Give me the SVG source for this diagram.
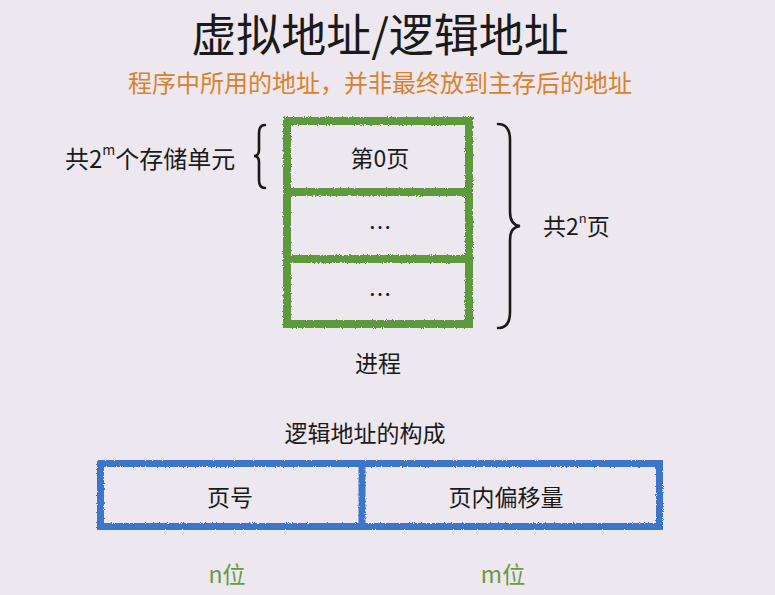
<svg xmlns="http://www.w3.org/2000/svg" width="775" height="595" viewBox="0 0 775 595">
<defs>
<filter id="rough" x="-5%" y="-5%" width="110%" height="110%">
<feTurbulence type="fractalNoise" baseFrequency="0.9" numOctaves="2" seed="3" result="n"/>
<feDisplacementMap in="SourceGraphic" in2="n" scale="3" xChannelSelector="R" yChannelSelector="G"/>
</filter>
</defs>
<style>
text{font-family:"Noto Sans CJK SC","Noto Sans",sans-serif;fill:#1a1a1a;}
.t{font-size:23px;text-anchor:middle;dominant-baseline:central;}
.g{fill:none;stroke:#5b9a3c;stroke-width:8;}
.b{fill:none;stroke:#3d74c8;stroke-width:7;}
.br{fill:none;stroke:#1a1a1a;stroke-width:2.6;stroke-linecap:round;}
.gl{fill:#6b9a3e;}
</style>
<rect width="775" height="595" fill="#ede7ef"/>
<g id="title">
<text x="380" y="32" class="t" style="font-size:45px">虚拟地址/逻辑地址</text>
<text x="380" y="81" class="t" style="font-size:24px;fill:#d9822e">程序中所用的地址，并非最终放到主存后的地址</text>
</g>
<g id="process" filter="url(#rough)">
<rect x="287" y="121" width="182" height="203" class="g"/>
<line x1="287" y1="192" x2="469" y2="192" class="g"/>
<line x1="287" y1="259" x2="469" y2="259" class="g"/>
</g>
<g id="page0"><text x="380" y="157" class="t">第0页</text></g>
<g id="page1"><text x="380" y="226" class="t">…</text></g>
<g id="page2"><text x="380" y="293" class="t">…</text></g>
<g id="process-label"><text x="378" y="362" class="t">进程</text></g>
<g id="connectors">
<path class="br" d="M265,125 Q259,125 259,133 L259,150 Q259,156 254,156 Q259,156 259,162 L259,180 Q259,188 265,188"/>
<path class="br" d="M498,124 Q510,124 510,140 L510,212 Q510,225 520,226 Q510,227 510,240 L510,312 Q510,328 498,328"/>
</g>
<g id="units-label"><text x="65" y="157" style="font-size:24px;dominant-baseline:central">共2<tspan dy="-8" style="font-size:14px">m</tspan><tspan dy="8">个存储单元</tspan></text></g>
<g id="pages-label"><text x="543" y="225" style="font-size:23px;dominant-baseline:central">共2<tspan dy="-8" style="font-size:13px">n</tspan><tspan dy="8">页</tspan></text></g>
<g id="logical-label"><text x="365" y="432" class="t">逻辑地址的构成</text></g>
<g id="logical" filter="url(#rough)">
<rect x="100.5" y="463.5" width="559" height="63" class="b"/>
<line x1="362" y1="463.5" x2="362" y2="526.5" class="b"/>
</g>
<g id="pagenum"><text x="230" y="496" class="t">页号</text></g>
<g id="offset"><text x="506" y="496" class="t">页内偏移量</text></g>
<g id="nbits"><text x="227" y="573" class="t gl">n位</text></g>
<g id="mbits"><text x="503" y="573" class="t gl">m位</text></g>
</svg>
